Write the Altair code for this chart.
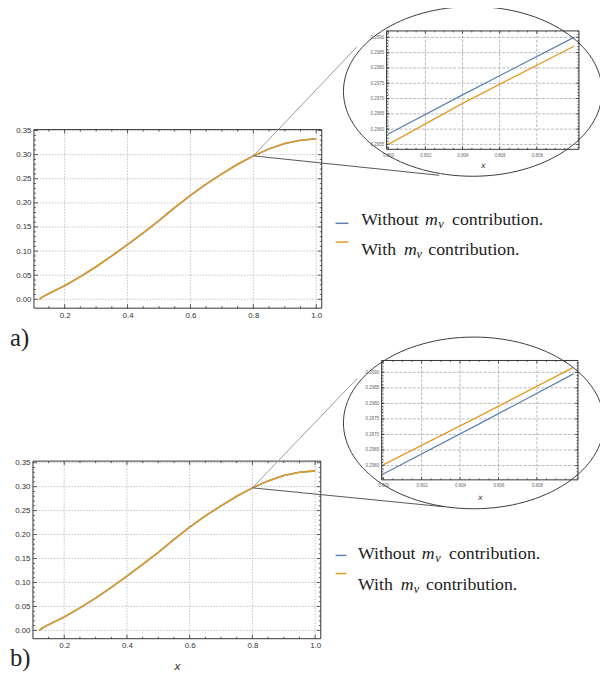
import altair as alt
import pandas as pd

OFF = 8          # page margin
W, H = 600, 671  # drawing area

# ---------------- data ----------------
x_main = [0.12, 0.13, 0.15, 0.175, 0.2, 0.25, 0.3, 0.35, 0.4, 0.45, 0.5,
          0.55, 0.6, 0.65, 0.7, 0.75, 0.8, 0.85, 0.9, 0.95, 1.0]
y_without = [0.0, 0.005, 0.012, 0.020, 0.028, 0.047, 0.0675, 0.090, 0.1134, 0.138, 0.163,
             0.190, 0.2157, 0.239, 0.260, 0.280, 0.2975, 0.312, 0.3233, 0.330, 0.333]
y_with = [0.0, 0.005, 0.012, 0.020, 0.028, 0.047, 0.0675, 0.090, 0.1134, 0.138, 0.163,
          0.190, 0.2157, 0.239, 0.260, 0.280, 0.2975, 0.312, 0.3233, 0.330, 0.333]

# zoomed insets (panel a: "without" above, panel b: "with" above)
xa_zoom = [0.8000, 0.8040, 0.8100]
ya_without = [0.29584, 0.29712, 0.29900]
ya_with = [0.29550, 0.29684, 0.29871]
xb_zoom = [0.8000, 0.8050, 0.8099]
yb_without = [0.29573, 0.29734, 0.29895]
yb_with = [0.29602, 0.29759, 0.29916]

main_xticks = [0.2, 0.4, 0.6, 0.8, 1.0]
main_yticks = [0.0, 0.05, 0.10, 0.15, 0.20, 0.25, 0.30, 0.35]
main_xminor = [0.15, 0.25, 0.3, 0.35, 0.45, 0.5, 0.55, 0.65, 0.7, 0.75, 0.85, 0.9, 0.95]
main_yminor = [round(0.01 * i, 2) for i in range(0, 36) if i % 5 != 0]
zoom_xticks = [0.800, 0.802, 0.804, 0.806, 0.808]
zoom_xminor = [round(0.8 + 0.0005 * i, 4) for i in range(0, 21) if i % 4 != 0]
zoom_yticks_a = [0.2955, 0.2960, 0.2965, 0.2970, 0.2975, 0.2980, 0.2985, 0.2990]
zoom_yticks_b = [0.2960, 0.2965, 0.2970, 0.2975, 0.2980, 0.2985, 0.2990]
zoom_yminor = [round(0.2953 + 0.0001 * i, 4) for i in range(0, 41)]

legend_labels = ["Without", "With"]
legend_colors = ["#5E81B5", "#E19C24"]
BLUE, ORANGE = legend_colors
SERIF = "Liberation Serif, Times New Roman, serif"


def P(v):
    return v - OFF


def panel(xd, yd, xr, yr, xt, yt, xminor, yminor, xfmt, yfmt, curves,
          label_size, label_color, grid_color, grid_dash, frame_color,
          major_len, minor_len, xtitle=None, title_size=11, title_pad=4,
          extra=None, lwidth=1.6):
    sx = alt.Scale(domain=xd, range=[P(xr[0]), P(xr[1])], zero=False, nice=False)
    sy = alt.Scale(domain=yd, range=[P(yr[0]), P(yr[1])], zero=False, nice=False)
    axx_kw = dict(orient="bottom", offset=P(yr[0]) - H, values=xt, format=xfmt,
                  domain=False, ticks=False, grid=False, labelFont="Liberation Sans",
                  labelFontSize=label_size, labelColor=label_color, labelPadding=3,
                  labelFlush=False, labelOverlap=False)
    if xtitle:
        axx_kw.update(title=xtitle, titleFont="DejaVu Sans", titleFontStyle="italic",
                      titleFontWeight="normal", titleFontSize=title_size,
                      titleColor="#333", titlePadding=title_pad)
    else:
        axx_kw.update(title=None)
    ax = alt.Axis(**axx_kw)
    ay = alt.Axis(orient="left", offset=-P(xr[0]), values=yt, format=yfmt,
                  domain=False, ticks=False, grid=False, labelFont="Liberation Sans",
                  labelFontSize=label_size, labelColor=label_color, labelPadding=3,
                  labelFlush=False, labelOverlap=False, title=None)

    X = lambda f: alt.X(f, scale=sx, axis=ax)
    Y = lambda f: alt.Y(f, scale=sy, axis=ay)
    XD = lambda v: alt.XDatum(v, scale=sx, axis=ax)
    YD = lambda v: alt.YDatum(v, scale=sy, axis=ay)

    layers = []
    gx = pd.DataFrame({"t": [v for v in xt if xd[0] <= v <= xd[1]]})
    gy = pd.DataFrame({"t": [v for v in yt if yd[0] <= v <= yd[1]]})
    layers.append(alt.Chart(gx).mark_rule(color=grid_color, strokeDash=grid_dash, strokeWidth=0.8)
                  .encode(x=X("t:Q"), y=YD(yd[0]), y2=alt.Y2Datum(yd[1])))
    layers.append(alt.Chart(gy).mark_rule(color=grid_color, strokeDash=grid_dash, strokeWidth=0.8)
                  .encode(y=Y("t:Q"), x=XD(xd[0]), x2=alt.X2Datum(xd[1])))
    # inward frame ticks
    for vals, ln in ((xt, major_len), (xminor, minor_len)):
        d = pd.DataFrame({"t": [v for v in vals if xd[0] <= v <= xd[1]]})
        layers.append(alt.Chart(d).mark_rule(color=frame_color, strokeWidth=0.8, y2Offset=-ln)
                      .encode(x=X("t:Q"), y=YD(yd[0]), y2=alt.Y2Datum(yd[0])))
        layers.append(alt.Chart(d).mark_rule(color=frame_color, strokeWidth=0.8, y2Offset=ln)
                      .encode(x=X("t:Q"), y=YD(yd[1]), y2=alt.Y2Datum(yd[1])))
    for vals, ln in ((yt, major_len), (yminor, minor_len)):
        d = pd.DataFrame({"t": [v for v in vals if yd[0] <= v <= yd[1]]})
        layers.append(alt.Chart(d).mark_rule(color=frame_color, strokeWidth=0.8, x2Offset=ln)
                      .encode(y=Y("t:Q"), x=XD(xd[0]), x2=alt.X2Datum(xd[0])))
        layers.append(alt.Chart(d).mark_rule(color=frame_color, strokeWidth=0.8, x2Offset=-ln)
                      .encode(y=Y("t:Q"), x=XD(xd[1]), x2=alt.X2Datum(xd[1])))
    # curves
    for xs, ys, col in curves:
        d = pd.DataFrame({"x": xs, "y": ys})
        layers.append(alt.Chart(d).mark_line(color=col, strokeWidth=lwidth, clip=False)
                      .encode(x=X("x:Q"), y=Y("y:Q")))
    # frame
    fr = pd.DataFrame({"x0": [xd[0]], "x1": [xd[1]], "y0": [yd[0]], "y1": [yd[1]]})
    layers.append(alt.Chart(fr).mark_rect(fillOpacity=0, stroke=frame_color, strokeWidth=1)
                  .encode(x=X("x0:Q"), x2="x1:Q", y=Y("y0:Q"), y2="y1:Q"))
    if extra is not None:
        for e in extra(X, Y):
            layers.append(e)
    return alt.layer(*layers)


def connectors(p0, up, low):
    def f(X, Y):
        d = pd.DataFrame({"x0": [p0[0], p0[0]], "y0": [p0[1], p0[1]],
                          "x1": [up[0], low[0]], "y1": [up[1], low[1]],
                          "c": ["#9a9a9a", "#555555"]})
        return [alt.Chart(d).mark_rule(strokeWidth=1)
                .encode(x=X("x0:Q"), y=Y("y0:Q"), x2="x1:Q", y2="y1:Q",
                        color=alt.Color("c:N", scale=None, legend=None))]
    return f


main_a = panel([0.1024, 1.0176], [-0.0184, 0.352], [34.3, 326], [307.7, 126.7],
               main_xticks, main_yticks, main_xminor, main_yminor, ".1f", ".2f",
               [(x_main, y_without, BLUE), (x_main, y_with, ORANGE)],
               8, "#333", "#b4b4b4", [1.5, 1.5], "#333", 4, 2,
               extra=connectors((0.8, 0.2975), (1.1297, 0.5239), (1.3911, 0.2572)))
zoom_a = panel([0.79991, 0.81027], [0.29534, 0.29921], [391.7, 586.7], [146.7, 26.7],
               zoom_xticks, zoom_yticks_a, zoom_xminor, zoom_yminor, ".3f", ".4f",
               [(xa_zoom, ya_without, BLUE), (xa_zoom, ya_with, ORANGE)],
               4.5, "#666", "#a8a8a8", [3, 1.5], "#333", 3, 1.5,
               xtitle="x", title_size=8, title_pad=5, lwidth=1.3)
main_b = panel([0.1003, 1.018], [-0.0173, 0.3533], [33.3, 325], [642.7, 462.7],
               main_xticks, main_yticks, main_xminor, main_yminor, ".1f", ".2f",
               [(x_main, y_without, BLUE), (x_main, y_with, ORANGE)],
               8, "#333", "#b4b4b4", [1.5, 1.5], "#333", 4, 2,
               xtitle="x", title_size=11, title_pad=11,
               extra=connectors((0.8, 0.2975), (1.1339, 0.5256), (1.4107, 0.258)))
zoom_b = panel([0.79992, 0.81014], [0.29554, 0.29938], [386.7, 585.7], [481.7, 360.7],
               zoom_xticks, zoom_yticks_b, zoom_xminor, zoom_yminor, ".3f", ".4f",
               [(xb_zoom, yb_without, BLUE), (xb_zoom, yb_with, ORANGE)],
               4.5, "#666", "#a8a8a8", [3, 1.5], "#333", 3, 1.5,
               xtitle="x", title_size=8, title_pad=6, lwidth=1.3)

one = pd.DataFrame({"k": [0]})


def ellipse(cx, cy, rx, ry):
    k = ry / rx
    path = f"M-1,0A1,{k:.4f},0,1,1,1,0A1,{k:.4f},0,1,1,-1,0Z"
    return alt.Chart(one).mark_point(shape=path, size=(2 * rx) ** 2, filled=False,
                                     stroke="#3a3a3a", strokeWidth=1, opacity=1).encode(
        x=alt.value(P(cx)), y=alt.value(P(cy)))


def text(s, x, y, size, style="normal", font=SERIF, color="#222"):
    return alt.Chart(one).mark_text(text=s, align="left", baseline="alphabetic",
                                    font=font, fontSize=size, fontStyle=style,
                                    color=color).encode(
        x=alt.value(P(x)), y=alt.value(P(y)))


def legend(rows):
    out = []
    for lab, col, (my, mx0, mx1, base, xw, xm, xn, xc) in zip(legend_labels, legend_colors, rows):
        out.append(alt.Chart(one).mark_rule(color=col, strokeWidth=1.5).encode(
            x=alt.value(P(mx0)), x2=alt.value(P(mx1)), y=alt.value(P(my))))
        out.append(text(lab, xw, base, 18))
        out.append(text("m", xm, base, 18, "italic"))
        out.append(text("\u03bd", xn, base + 3, 12.5, "italic"))
        out.append(text("contribution.", xc, base, 18))
    return out


leg_a = legend([(221.7, 340, 353, 223.3, 366, 430.7, 444, 458),
                (240.7, 340, 353, 254.3, 366, 409.3, 422, 434)])
leg_b = legend([(558.3, 340, 351, 561.7, 362.7, 427.3, 441, 455),
                (576.7, 340, 351, 593.3, 362.7, 406, 419.3, 431.7)])

chart = alt.layer(
    main_a, zoom_a, main_b, zoom_b,
    ellipse(479, 88, 131, 86), ellipse(480, 424, 132, 87),
    text("a)", 10, 346, 25), text("b)", 10, 670, 25),
    *leg_a, *leg_b,
).resolve_scale(x="independent", y="independent").properties(
    width=W, height=H, padding=0,
    autosize=alt.AutoSizeParams(type="none"),
).configure_view(stroke=None)

chart.save("out.html", embed_options={"renderer": "svg", "actions": False})
